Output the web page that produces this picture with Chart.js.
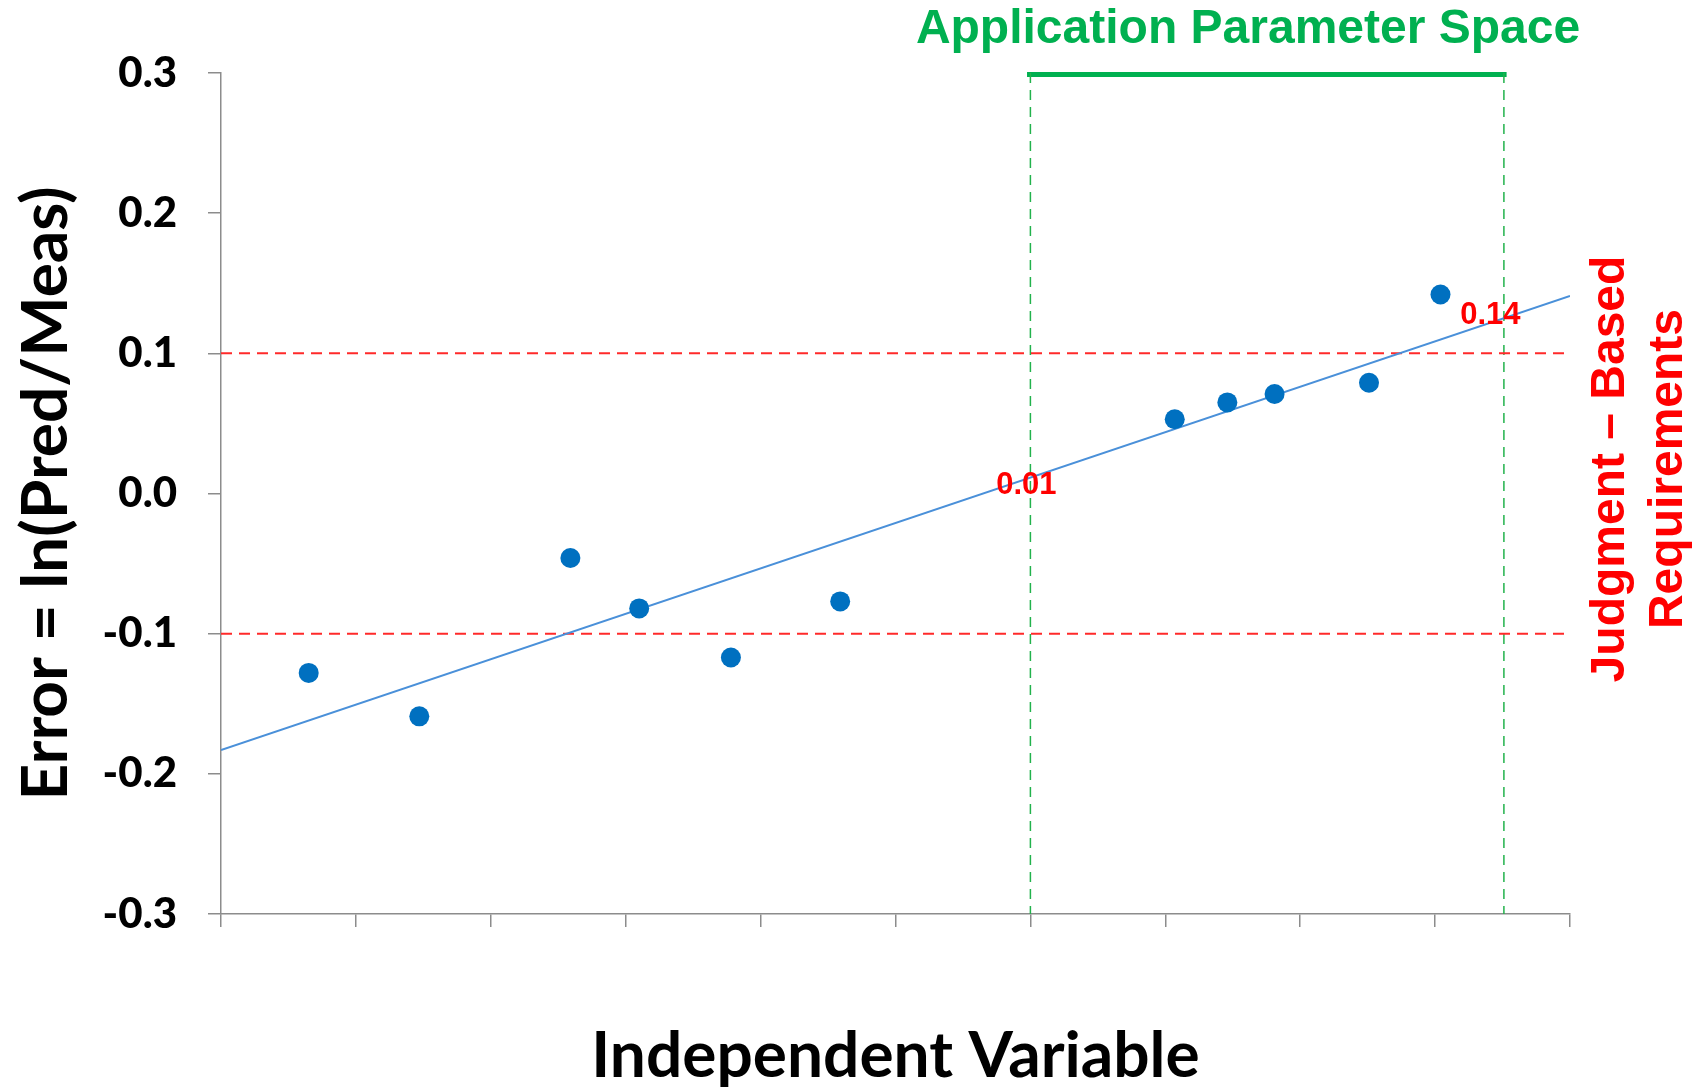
<!DOCTYPE html>
<html>
<head>
<meta charset="utf-8">
<script src="https://cdn.jsdelivr.net/npm/chart.js@4.4.1/dist/chart.umd.min.js"></script>
<style>
  body { margin: 0; background: #fff; }
  canvas { display: block; }
</style>
</head>
<body>
<canvas id="errorChart" width="1700" height="1089"></canvas>
<script>
// Measured points (independent variable vs. error)
const xVals = [0.65, 1.47, 2.59, 3.10, 3.78, 4.59, 7.07, 7.46, 7.81, 8.51, 9.04];
const errVals = [-0.128, -0.159, -0.046, -0.082, -0.117, -0.077, 0.053, 0.065, 0.071, 0.079, 0.142];

// Trend line end points
const trendX = [0, 10];
const trendY = [-0.183, 0.141];

// Judgment-based requirement limits
const limitY = [0.1, -0.1];

// Application parameter space edges
const spaceX = [6.0, 9.51];

// Values of the trend line at the edges of the space
const edgeLabels = ['0.01', '0.14'];

const red = '#FF2A2A';
const green = '#00B050';
const axisGrey = '#8C8C8C';

function pts(xs, ys) {
  return xs.map((x, i) => ({ x: x, y: ys[i] }));
}

// Text drawn on top of the chart (headings and edge values)
const notesPlugin = {
  id: 'notes',
  afterDraw(chart) {
    const ctx = chart.ctx;
    const xs = chart.scales.x;
    const ys = chart.scales.y;
    ctx.save();

    ctx.fillStyle = green;
    ctx.font = 'bold 48px "Liberation Sans", Arial, sans-serif';
    ctx.textAlign = 'center';
    ctx.textBaseline = 'alphabetic';
    ctx.fillText('Application Parameter Space', 1248, 43);

    ctx.fillStyle = '#FF0000';
    ctx.font = 'bold 31px "Liberation Sans", Arial, sans-serif';
    ctx.fillText(edgeLabels[0], xs.getPixelForValue(5.97), ys.getPixelForValue(0.0));
    ctx.fillText(edgeLabels[1], xs.getPixelForValue(9.41), ys.getPixelForValue(0.121));

    ctx.font = 'bold 48px "Liberation Sans", Arial, sans-serif';
    ctx.translate(0, 469);
    ctx.rotate(-Math.PI / 2);
    ctx.fillText('Judgment \u2013 Based', 0, 1624);
    ctx.fillText('Requirements', 0, 1682);
    ctx.restore();
  }
};

window.onload = function() {
  const ctx = document.getElementById('errorChart').getContext('2d');
  Chart.defaults.font.family = 'Lato, sans-serif';
  Chart.defaults.color = '#000';

  new Chart(ctx, {
    type: 'scatter',
    data: {
      datasets: [
        {
          label: 'Error',
          data: pts(xVals, errVals),
          backgroundColor: '#0070C0',
          borderColor: '#0070C0',
          pointRadius: 10,
          pointBorderWidth: 0
        },
        {
          label: 'Trend',
          data: pts(trendX, trendY),
          showLine: true,
          borderColor: '#4A90D9',
          borderWidth: 2,
          pointRadius: 0
        },
        {
          label: 'Upper limit',
          data: pts([0, 10], [limitY[0], limitY[0]]),
          showLine: true,
          borderColor: red,
          borderWidth: 2,
          borderDash: [11, 7],
          pointRadius: 0
        },
        {
          label: 'Lower limit',
          data: pts([0, 10], [limitY[1], limitY[1]]),
          showLine: true,
          borderColor: red,
          borderWidth: 2,
          borderDash: [11, 7],
          pointRadius: 0
        },
        {
          label: 'Space start',
          data: pts([spaceX[0], spaceX[0]], [0.3, -0.3]),
          showLine: true,
          borderColor: '#22B24C',
          borderWidth: 1.5,
          borderDash: [10, 7],
          pointRadius: 0
        },
        {
          label: 'Space end',
          data: pts([spaceX[1], spaceX[1]], [0.3, -0.3]),
          showLine: true,
          borderColor: '#22B24C',
          borderWidth: 1.5,
          borderDash: [10, 7],
          pointRadius: 0
        },
        {
          label: 'Space bar',
          data: pts([spaceX[0] - 0.025, spaceX[1] + 0.02], [0.299, 0.299]),
          showLine: true,
          borderColor: green,
          borderWidth: 5,
          pointRadius: 0,
          clip: false
        }
      ]
    },
    options: {
      responsive: false,
      animation: false,
      layout: { padding: { top: 73, right: 130, bottom: 0, left: 0 } },
      plugins: {
        legend: { display: false },
        tooltip: { enabled: false }
      },
      scales: {
        x: {
          type: 'linear',
          min: 0,
          max: 10,
          ticks: { stepSize: 1, display: false },
          grid: { drawOnChartArea: false, color: axisGrey, lineWidth: 1.5, tickLength: 13 },
          border: { color: axisGrey, width: 1.5 },
          title: {
            display: true,
            text: 'Independent Variable',
            font: { size: 64, weight: 'bold', lineHeight: 1.0 },
            padding: { top: 0, bottom: 1 }
          },
          afterFit(scale) { scale.height = 175; }
        },
        y: {
          min: -0.3,
          max: 0.3,
          ticks: {
            stepSize: 0.1,
            padding: 31,
            font: { size: 42, weight: 900 },
            callback: v => v.toFixed(1)
          },
          grid: { drawOnChartArea: false, color: axisGrey, lineWidth: 1.5, tickLength: 13 },
          border: { color: axisGrey, width: 1.5 },
          title: {
            display: true,
            text: 'Error = ln(Pred/Meas)',
            font: { size: 64, weight: 'bold', lineHeight: 1.0 },
            padding: { top: 14, bottom: 0 }
          },
          afterFit(scale) { scale.width = 221; }
        }
      }
    },
    plugins: [notesPlugin]
  });
};
</script>
</body>
</html>
